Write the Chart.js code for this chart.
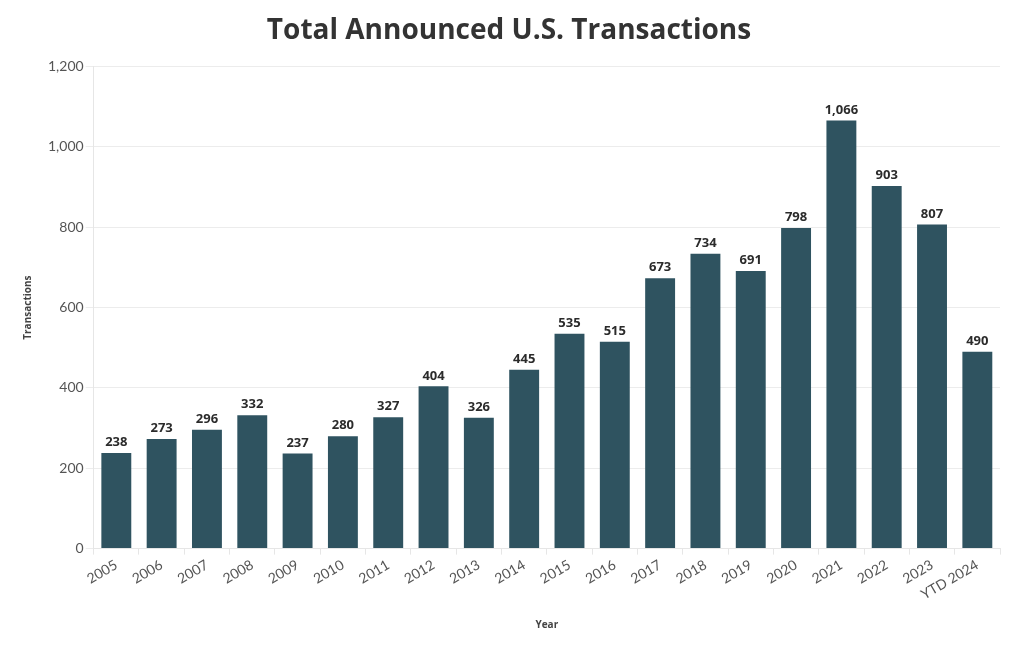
<!DOCTYPE html>
<html><head><meta charset="utf-8">
<script src="https://cdn.jsdelivr.net/npm/chart.js@4.4.1/dist/chart.umd.min.js"></script>
<style>html,body{margin:0;padding:0;background:#fff}#wrap{width:1020px;height:650px}</style>
</head><body><div id="wrap"><canvas id="c" width="1020" height="650"></canvas></div>
<script>
const categories = ["2005","2006","2007","2008","2009","2010","2011","2012","2013","2014","2015","2016","2017","2018","2019","2020","2021","2022","2023","YTD 2024"];
const transactions = [238,273,296,332,237,280,327,404,326,445,535,515,673,734,691,798,1066,903,807,490];
const yTicks = [0,200,400,600,800,1000,1200];

const labelPlugin = {
  id:'barLabels',
  afterDatasetsDraw(chart){
    const ctx = chart.ctx;
    const meta = chart.getDatasetMeta(0);
    ctx.save();
    ctx.font = 'bold 13px "Open Sans", sans-serif';
    ctx.fillStyle = '#2b2b2b';
    ctx.textAlign = 'center';
    ctx.textBaseline = 'bottom';
    meta.data.forEach((bar,i)=>{
      ctx.fillText(transactions[i].toLocaleString('en-US'), bar.x, bar.y - 4);
    });
    ctx.restore();
  }
};

new Chart(document.getElementById('c'), {
  type:'bar',
  data:{labels:categories, datasets:[{data:transactions, backgroundColor:'#2f5360', barPercentage:0.66, categoryPercentage:1.0}]},
  options:{
    responsive:false, animation:false,
    layout:{padding:{left:18,right:20,top:4,bottom:15}},
    plugins:{
      legend:{display:false}, tooltip:{enabled:false},
      title:{display:true, text:'Total Announced U.S. Transactions', color:'#333', font:{family:'"Open Sans", sans-serif', size:28, weight:'bold'}, padding:{top:10,bottom:19}}
    },
    scales:{
      x:{
        grid:{display:true, drawOnChartArea:false, drawTicks:true, tickLength:6, color:'#e6e6e6'},
        border:{color:'#e6e6e6'},
        ticks:{color:'#555', font:{family:'Lato, sans-serif', size:14}, minRotation:30, maxRotation:30, padding:2},
        title:{display:true, text:'Year', color:'#444', font:{family:'"Open Sans", sans-serif', size:10, weight:'bold'}, padding:{top:14}}
      },
      y:{
        min:0, max:1200,
        afterBuildTicks(axis){ axis.ticks = yTicks.map(v=>({value:v})); },
        grid:{color:'#ececec', drawTicks:true, tickLength:8},
        border:{color:'#e6e6e6'},
        ticks:{color:'#555', font:{family:'Lato, sans-serif', size:14}, padding:2, callback:v=>v.toLocaleString('en-US')},
        title:{display:true, text:'Transactions', color:'#444', font:{family:'"Open Sans", sans-serif', size:10, weight:'bold'}, padding:{bottom:12}}
      }
    }
  },
  plugins:[labelPlugin]
});
</script></body></html>
